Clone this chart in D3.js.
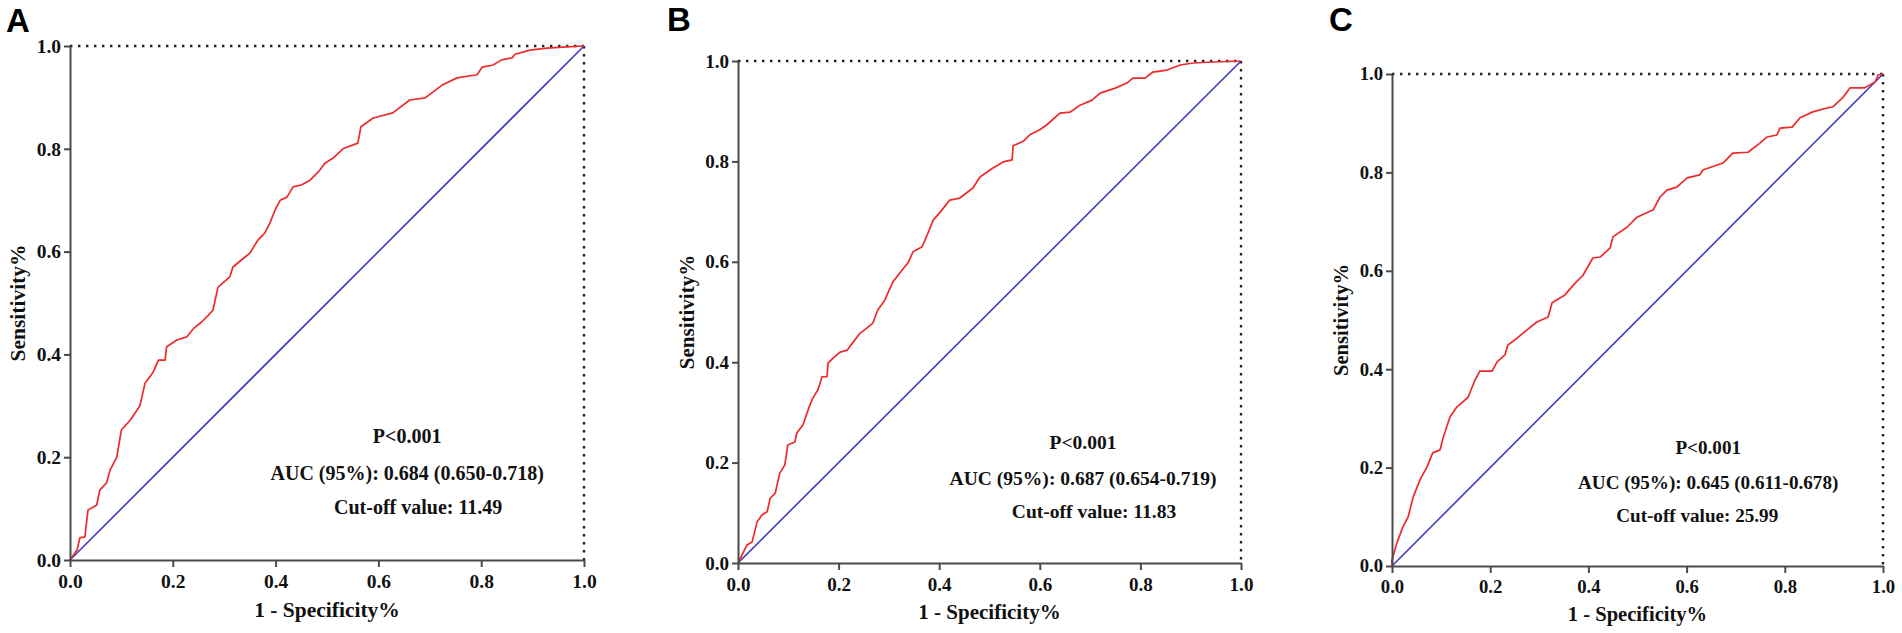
<!DOCTYPE html>
<html>
<head>
  <meta charset="utf-8">
  <title>ROC curves A-C</title>
  <script src="https://d3js.org/d3.v7.min.js"></script>
  <style>
    body{margin:0;background:#fff;}
  </style>
</head>
<body>
  <script>
      // data
      var panelLabels=["A","B","C"];
      var tickValues=[0,0.2,0.4,0.6,0.8,1.0];
      var xTitle="1 - Specificity%";
      var yTitle="Sensitivity%";
      var pTexts=["P<0.001","P<0.001","P<0.001"];
      var aucTexts=["AUC (95%): 0.684 (0.650-0.718)","AUC (95%): 0.687 (0.654-0.719)","AUC (95%): 0.645 (0.611-0.678)"];
      var cutTexts=["Cut-off value: 11.49","Cut-off value: 11.83","Cut-off value: 25.99"];

      var fprA=[0,0.014,0.019,0.029,0.035,0.052,0.058,0.071,0.078,0.091,0.100,0.117,0.136,0.146,0.162,0.172,0.185,0.188,0.208,0.227,0.240,0.256,0.269,0.278,0.288,0.311,0.317,0.340,0.350,0.366,0.379,0.389,0.399,0.409,0.422,0.434,0.451,0.467,0.483,0.496,0.512,0.531,0.560,0.566,0.590,0.628,0.661,0.691,0.724,0.753,0.792,0.802,0.823,0.840,0.860,0.866,0.895,0.928,0.959,1];
      var tprA=[0,0.020,0.043,0.045,0.097,0.107,0.136,0.150,0.175,0.200,0.253,0.272,0.300,0.344,0.366,0.389,0.389,0.415,0.428,0.434,0.450,0.463,0.476,0.486,0.531,0.551,0.570,0.589,0.597,0.623,0.636,0.656,0.681,0.700,0.706,0.726,0.730,0.739,0.755,0.772,0.782,0.800,0.811,0.843,0.860,0.870,0.895,0.899,0.924,0.938,0.944,0.959,0.963,0.973,0.977,0.984,0.992,0.996,0.998,1];

      var fprB=[0,0.018,0.028,0.038,0.048,0.058,0.064,0.074,0.083,0.093,0.099,0.113,0.117,0.129,0.143,0.149,0.159,0.167,0.177,0.179,0.189,0.203,0.217,0.229,0.243,0.256,0.268,0.278,0.292,0.308,0.322,0.338,0.348,0.366,0.376,0.388,0.402,0.421,0.441,0.467,0.481,0.507,0.527,0.545,0.547,0.567,0.580,0.600,0.614,0.640,0.660,0.680,0.704,0.720,0.750,0.773,0.785,0.809,0.825,0.853,0.879,0.905,0.944,1];
      var tprB=[0,0.036,0.042,0.082,0.096,0.102,0.129,0.139,0.179,0.195,0.235,0.241,0.259,0.275,0.315,0.329,0.345,0.371,0.371,0.398,0.408,0.420,0.424,0.440,0.458,0.468,0.478,0.504,0.524,0.560,0.578,0.598,0.620,0.630,0.653,0.683,0.699,0.723,0.727,0.747,0.769,0.787,0.799,0.803,0.831,0.840,0.853,0.863,0.873,0.896,0.898,0.912,0.922,0.936,0.946,0.956,0.966,0.966,0.978,0.982,0.992,0.996,0.998,1];

      var fprC=[0,0,0.010,0.022,0.033,0.043,0.057,0.071,0.083,0.098,0.104,0.118,0.132,0.155,0.169,0.179,0.204,0.214,0.230,0.236,0.257,0.275,0.295,0.318,0.326,0.352,0.373,0.389,0.409,0.424,0.444,0.450,0.479,0.499,0.532,0.546,0.560,0.580,0.601,0.627,0.633,0.674,0.694,0.725,0.750,0.764,0.784,0.790,0.815,0.831,0.857,0.886,0.898,0.919,0.933,0.963,0.974,0.984,0.990,1];
      var tprC=[0,0.012,0.047,0.079,0.100,0.140,0.175,0.201,0.230,0.236,0.260,0.303,0.323,0.343,0.378,0.396,0.396,0.415,0.429,0.449,0.465,0.480,0.496,0.506,0.535,0.551,0.575,0.591,0.626,0.628,0.646,0.669,0.689,0.709,0.724,0.750,0.764,0.770,0.789,0.795,0.805,0.819,0.839,0.841,0.860,0.872,0.876,0.890,0.892,0.911,0.923,0.931,0.933,0.953,0.972,0.972,0.978,0.984,0.998,1];

      var fprs=[fprA,fprB,fprC];
      var tprs=[tprA,tprB,tprC];

      // plot boxes (left, top, size) and scale of each panel
      var boxes=[
        {x:70,y:46,w:514,h:514,s:1},
        {x:738,y:61,w:503,h:502,s:0.977},
        {x:1392,y:74,w:491,h:492,s:0.957}
      ];
      var labelPos=[[6,32],[667,31],[1329,31]];
      var textCx=[0.656,0.686,0.644];
      var cutDx=[11,11,-11];

      var serif="'Times New Roman','Liberation Serif',serif";
      var sans="Arial,'Liberation Sans',sans-serif";

      var svg=d3.select("body").append("svg")
                .attr("width",1902).attr("height",633);

      panelLabels.forEach(function(lab,i){
        var b=boxes[i], s=b.s;
        var x=d3.scaleLinear().domain([0,1]).range([0,b.w]);
        var y=d3.scaleLinear().domain([0,1]).range([b.h,0]);

        svg.append("text")
           .attr("x",labelPos[i][0]).attr("y",labelPos[i][1])
           .attr("font-family",sans).attr("font-weight","bold")
           .attr("font-size",33).attr("fill","#000")
           .text(lab);

        var g=svg.append("g").attr("transform","translate("+b.x+","+b.y+")");

        // dotted frame at top and right
        g.append("line")
         .attr("x1",x(0)).attr("x2",x(1)).attr("y1",y(1)).attr("y2",y(1))
         .attr("stroke","#222").attr("stroke-width",2.4)
         .attr("stroke-dasharray","2.4,5.6");
        g.append("line")
         .attr("x1",x(1)).attr("x2",x(1)).attr("y1",y(1)).attr("y2",y(0))
         .attr("stroke","#222").attr("stroke-width",2.4)
         .attr("stroke-dasharray","2.4,5.6");

        // reference diagonal
        g.append("line")
         .attr("x1",x(0)).attr("y1",y(0)).attr("x2",x(1)).attr("y2",y(1))
         .attr("stroke","#3b3bbf").attr("stroke-width",1.6);

        // roc curve
        var pts=d3.zip(fprs[i],tprs[i]);
        g.append("path")
         .datum(pts)
         .attr("d",d3.line().x(function(d){return x(d[0]);}).y(function(d){return y(d[1]);}))
         .attr("fill","none").attr("stroke","#ee2a2a").attr("stroke-width",1.7)
         .attr("stroke-linejoin","round");

        var fmt=d3.format(".1f");
        var xa=g.append("g").attr("transform","translate(0,"+b.h+")")
               .call(d3.axisBottom(x).tickValues(tickValues).tickFormat(fmt)
                     .tickSizeInner(7).tickSizeOuter(0).tickPadding(7.5*s));
        var ya=g.append("g")
               .call(d3.axisLeft(y).tickValues(tickValues).tickFormat(fmt)
                     .tickSizeInner(6).tickSizeOuter(0).tickPadding(3));
        [xa,ya].forEach(function(a){
          a.select(".domain").attr("stroke","#4a4a4a").attr("stroke-width",2);
          a.selectAll(".tick line").attr("stroke","#4a4a4a").attr("stroke-width",2);
          a.selectAll(".tick text")
           .attr("font-family",serif).attr("font-weight","bold")
           .attr("font-size",19.5*s).attr("fill","#111");
        });

        g.append("text")
         .attr("x",b.w/2).attr("y",b.h+57*s)
         .attr("text-anchor","middle")
         .attr("font-family",serif).attr("font-weight","bold")
         .attr("font-size",21.5*s).attr("fill","#111")
         .text(xTitle);
        g.append("text")
         .attr("transform","translate("+(-53*s)+","+(b.h/2)+") rotate(-90)")
         .attr("text-anchor","middle").attr("dy","0.35em")
         .attr("font-family",serif).attr("font-weight","bold")
         .attr("font-size",21.5*s).attr("fill","#111")
         .text(yTitle);

        // annotation lines
        var cx=x(textCx[i]);
        var lines=[[pTexts[i],0.228,0],[aucTexts[i],0.156,0],[cutTexts[i],0.089,cutDx[i]]];
        lines.forEach(function(l){
          g.append("text")
           .attr("x",cx+l[2]).attr("y",y(l[1]))
           .attr("text-anchor","middle")
           .attr("font-family",serif).attr("font-weight","bold")
           .attr("font-size",20*s).attr("fill","#111")
           .text(l[0]);
        });
      });
  </script>
</body>
</html>
